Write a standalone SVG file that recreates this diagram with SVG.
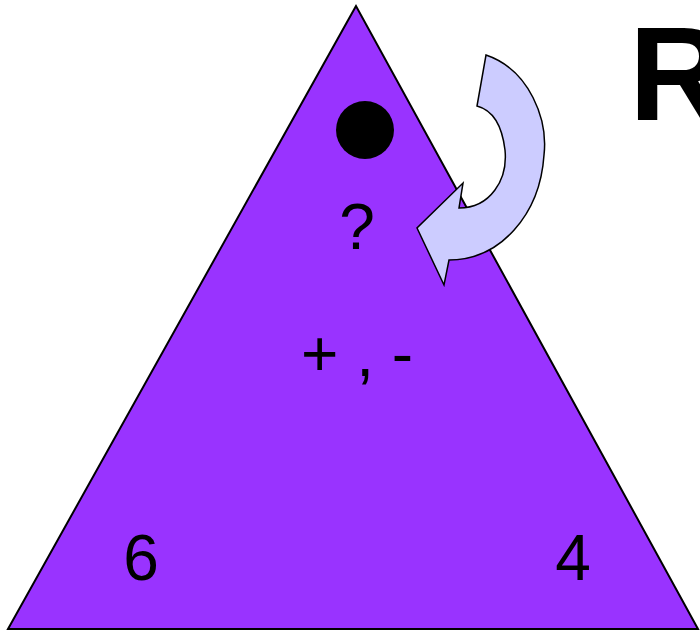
<svg xmlns="http://www.w3.org/2000/svg" width="700" height="633" viewBox="0 0 700 633">
<style>
.lbl{font-family:"Liberation Sans",Arial,sans-serif;font-size:64px;fill:#000;text-anchor:middle}
.title{font-family:"Liberation Sans",Arial,sans-serif;font-size:134px;font-weight:bold;fill:#000}
</style>
<rect width="700" height="633" fill="#fff"/>
<g id="triangle">
<polygon points="356,6 8,629 698,629" fill="#9933FF" stroke="#000" stroke-width="2" stroke-linejoin="miter"/>
<circle cx="365" cy="130" r="29" fill="#000"/>
<text class="lbl" x="357" y="249">?</text>
<text class="lbl" x="357" y="376">+ , -</text>
<text class="lbl" x="141" y="580">6</text>
<text class="lbl" x="573" y="580">4</text>
</g>
<g id="arrow">
<path d="M486,55 C530,70 548,120 544,155 C540,215 500,260 449,260 L444,285 L417,228 L463,183 L459,208 C490,208 508,180 505,150 C502,125 492,110 477,106 Z" fill="#CCCCFF" stroke="#000" stroke-width="1.5" stroke-linejoin="miter"/>
</g>
<text class="title" x="629" y="120">R</text>
</svg>
